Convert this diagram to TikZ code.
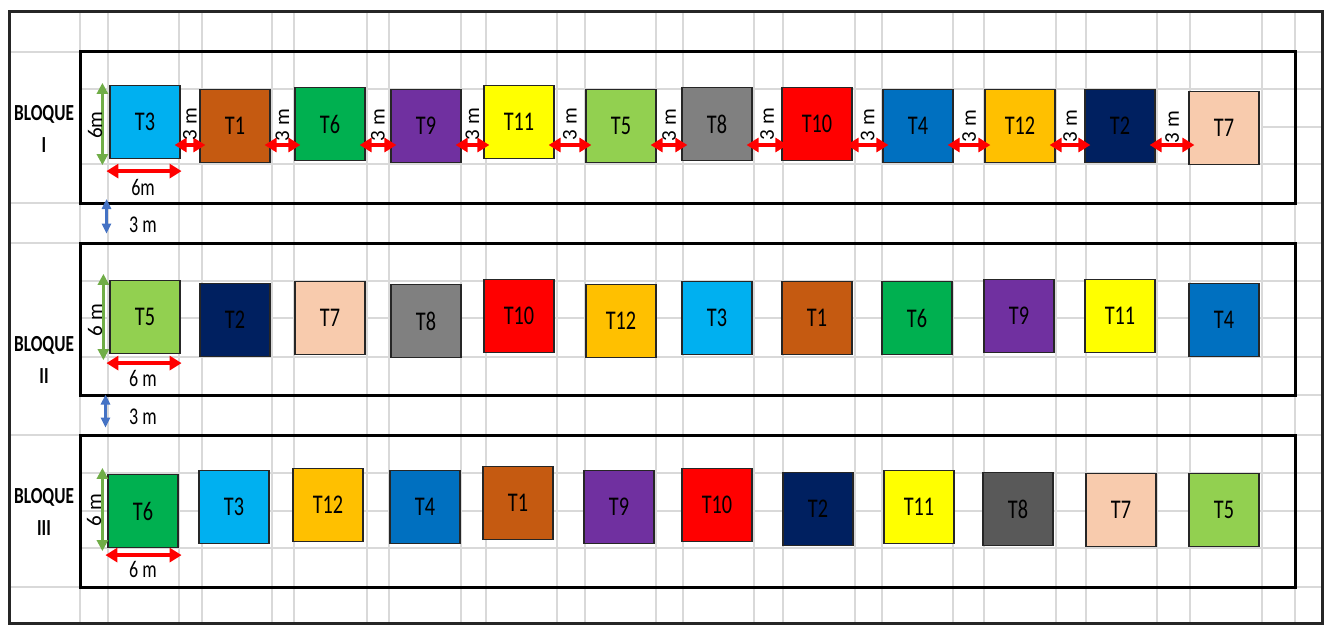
\documentclass[tikz,border=0pt]{standalone}
\usepackage{fontspec}
\setmainfont{Carlito}[FakeStretch=0.75]
\newfontfamily\plainfont{Carlito}
\usetikzlibrary{arrows.meta, calc}
\definecolor{gridgray}{HTML}{D9D9D9}
\definecolor{frame}{HTML}{262626}
\definecolor{cT1}{HTML}{C55A11}
\definecolor{cT2}{HTML}{002060}
\definecolor{cT3}{HTML}{00B0F0}
\definecolor{cT4}{HTML}{0070C0}
\definecolor{cT5}{HTML}{92D050}
\definecolor{cT6}{HTML}{00B050}
\definecolor{cT7}{HTML}{F8CBAD}
\definecolor{cT8}{HTML}{808080}
\definecolor{cT8d}{HTML}{595959}
\definecolor{cT9}{HTML}{7030A0}
\definecolor{cT10}{HTML}{FF0000}
\definecolor{cT11}{HTML}{FFFF00}
\definecolor{cT12}{HTML}{FFC000}
\definecolor{dimgreen}{HTML}{70AD47}
\definecolor{dimblue}{HTML}{4472C4}
\definecolor{dimred}{HTML}{FF0000}

\begin{document}
\begin{tikzpicture}[x=1pt, y=-1pt,
  gridline/.style={gridgray, line width=1.6pt},
  bloque/.style={draw=black, line width=3pt, minimum width=1215pt, minimum height=152pt, inner sep=0pt},
  tbox/.style={draw=black!85, line width=1.2pt, minimum width=70pt, minimum height=73pt, inner sep=0pt, font=\fontsize{27}{30}\selectfont},
  redarr/.style={dimred, line width=3.4pt, {Triangle[length=12pt,width=14pt]}-{Triangle[length=12pt,width=14pt]}},
  greenarr/.style={dimgreen, line width=2.6pt, {Triangle[length=11pt,width=11pt]}-{Triangle[length=11pt,width=11pt]}},
  bluearr/.style={dimblue, line width=2.4pt, {Triangle[length=10pt,width=9pt]}-{Triangle[length=10pt,width=9pt]}},
  vlabel/.style={rotate=90, inner sep=0pt, font=\plainfont\fontsize{21}{24}\selectfont},
  hlabel/.style={inner sep=0pt, font=\fontsize{24}{26}\selectfont},
  blabel/.style={align=center, inner sep=0pt, font=\bfseries\fontsize{23}{32}\selectfont}
]

% Page and outer frame
\fill[white] (0,0) rectangle (1325,625);
\useasboundingbox (0,0) rectangle (1325,625);

% Sheet grid
\foreach \gx in {80,108,179,202,272,294,367,389,461,486,557,585,656,683,754,783,855,882,953,984,1056,1086,1157,1190,1262,1295}
  \draw[gridline] (\gx,11) -- (\gx,623);
\foreach \gy in {52,89,164,203,243,281,318,357,395,435,473,511,548,587}
  \draw[gridline] (80,\gy) -- (1322,\gy);
\draw[gridline] (1262,127) -- (1322,127);
\foreach \gy in {52,203,243,435,587}
  \draw[gridline] (9,\gy) -- (80,\gy);

\draw[frame, line width=3pt] (9,11) rectangle (1322,623);

% Blocks
\node[bloque] (bI) at (687.5,127.5) {};
\node[bloque] (bII) at (687.5,319) {};
\node[bloque] (bIII) at (687.5,511) {};

\node[blabel] (lI) at (44,129) {BLOQUE\\I};
\node[blabel] (lII) at (44,360) {BLOQUE\\II};
\node[blabel] (lIII) at (44,512) {BLOQUE\\III};

% Bloque I
\foreach \t/\x/\y in {T3/145/122, T1/235/126, T6/330/124, T9/426/126, T11/519/122, T5/621/126,
                      T8/717/124, T10/817/124, T4/918/126, T12/1020/126, T2/1120/126, T7/1224/128}
  \node[tbox, fill=c\t] (b1-\t) at (\x,\y) {\t};

% Bloque II
\foreach \t/\x/\y in {T5/145/317, T2/235/320, T7/330/318, T8/426/321, T10/519/316, T12/621/321,
                      T3/717/318, T1/817/318, T6/917/318, T9/1019/316, T11/1120/316, T4/1224/320}
  \node[tbox, fill=c\t] (b2-\t) at (\x,\y) {\t};

% Bloque III
\foreach \t/\c/\x/\y in {T6/cT6/143/511, T3/cT3/234/507, T12/cT12/328/505, T4/cT4/425/507,
                         T1/cT1/518/503, T9/cT9/619/507, T10/cT10/717/505, T2/cT2/818/509,
                         T11/cT11/919/507, T8/cT8d/1018/509, T7/cT7/1121/510, T5/cT5/1224/510}
  \node[tbox, fill=\c] (b3-\t) at (\x,\y) {\t};

% 3 m between plots of bloque I
\coordinate (arrI) at (0,145);
\foreach \a/\b in {T3/T1, T1/T6, T6/T9, T9/T11, T11/T5, T5/T8, T8/T10, T10/T4, T4/T12, T12/T2, T2/T7} {
  \draw[redarr] ($(b1-\a.east |- arrI)+(-6,0)$) -- ($(b1-\b.west |- arrI)+(6,0)$);
  \node[vlabel] (g-\a) at ($(b1-\a.east)!0.5!(b1-\b.west)+(0,0)$) {3 m};
}

% 6 m sides
\draw[greenarr] ($(b1-T3.north west)+(-7,-2)$) -- ($(b1-T3.south west)+(-7,6)$);
\node[vlabel] (w1) at (95,125) {6m};
\draw[redarr] ($(b1-T3.south west)+(-3,12)$) -- ($(b1-T3.south east)+(1,12)$);
\node[hlabel] (d1) at (143,187) {6m};

\draw[greenarr] ($(b2-T5.north west)+(-6,-6)$) -- ($(b2-T5.south west)+(-6,6)$);
\node[vlabel] (w2) at (95,320) {6 m};
\draw[redarr] ($(b2-T5.south west)+(-3,9)$) -- ($(b2-T5.south east)+(1,9)$);
\node[hlabel] (d2) at (143,378) {6 m};

\draw[greenarr] ($(b3-T6.north west)+(-5,-6)$) -- ($(b3-T6.south west)+(-5,3)$);
\node[vlabel] (w3) at (94,510) {6 m};
\draw[redarr] ($(b3-T6.south west)+(-2,7)$) -- ($(b3-T6.south east)+(3,7)$);
\node[hlabel] (d3) at (143,569) {6 m};

% 3 m between blocks
\draw[bluearr] ($(bI.south west)+(28,-6)$) -- ($(bII.north west)+(28,-8)$);
\node[hlabel] (s1) at (143,225) {3 m};
\draw[bluearr] ($(bII.south west)+(27,-2)$) -- ($(bIII.north west)+(27,-6)$);
\node[hlabel] (s2) at (143,417) {3 m};

\end{tikzpicture}
\end{document}
